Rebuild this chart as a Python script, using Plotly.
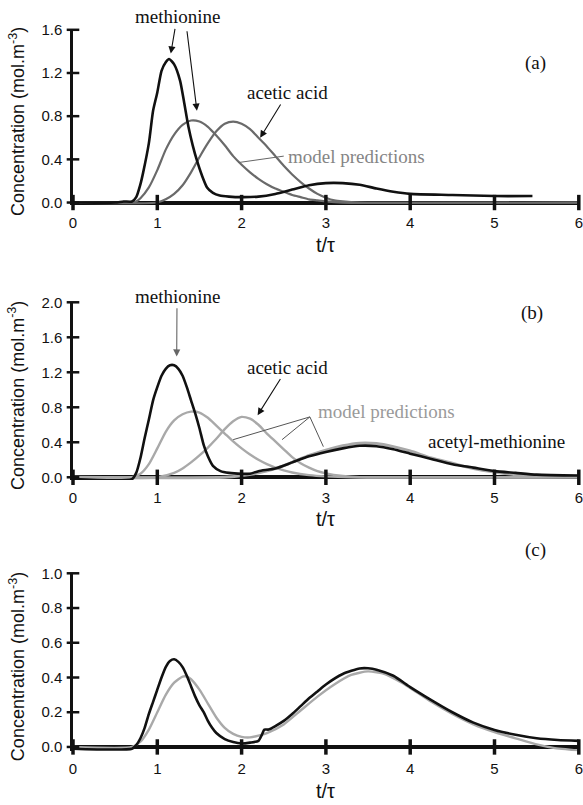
import plotly.graph_objects as go

# ---------------- data ----------------
# Panel (a)
t_a_exp = [0, 0.5, 0.6, 0.7, 0.75, 0.8, 0.83, 0.9, 0.95, 1.0, 1.05, 1.1, 1.14, 1.2, 1.27, 1.32, 1.37,
           1.42, 1.47, 1.53, 1.59, 1.66, 1.74, 1.85, 2.0, 2.2, 2.4, 2.6, 2.8, 3.0, 3.2, 3.4, 3.6, 3.8,
           4.0, 4.5, 5.0, 5.45]
c_a_exp = [0, 0.0, 0.01, 0.01, 0.05, 0.17, 0.27, 0.55, 0.85, 1.02, 1.22, 1.3, 1.33, 1.28, 1.13, 0.92, 0.7,
           0.53, 0.39, 0.25, 0.14, 0.09, 0.065, 0.055, 0.05, 0.055, 0.08, 0.12, 0.16, 0.18, 0.18, 0.165,
           0.13, 0.1, 0.08, 0.07, 0.06, 0.06]
t_a_met = [0, 0.7, 0.75, 0.8, 0.9, 1.0, 1.1, 1.2, 1.3, 1.4, 1.5, 1.6, 1.7, 1.8, 1.9, 2.0, 2.1, 2.2, 2.3,
           2.4, 2.5, 2.6, 2.7, 2.8, 2.9, 3.0, 3.2, 6.0]
c_a_met = [0, 0, 0.01, 0.04, 0.14, 0.3, 0.49, 0.63, 0.72, 0.76, 0.75, 0.7, 0.62, 0.53, 0.43, 0.35, 0.28,
           0.22, 0.17, 0.13, 0.1, 0.07, 0.05, 0.03, 0.02, 0.01, 0.0, 0.0]
t_a_ace = [0, 1.0, 1.1, 1.2, 1.3, 1.4, 1.5, 1.6, 1.7, 1.8, 1.9, 2.0, 2.1, 2.2, 2.3, 2.4, 2.5, 2.6, 2.7,
           2.8, 2.9, 3.0, 3.1, 3.2, 3.4, 6.0]
c_a_ace = [0, 0.0, 0.03, 0.08, 0.16, 0.28, 0.42, 0.55, 0.66, 0.73, 0.75, 0.73, 0.68, 0.6, 0.52, 0.43,
           0.34, 0.26, 0.19, 0.13, 0.08, 0.045, 0.02, 0.01, 0.0, 0.0]

# Panel (b)
t_b_exp = [0, 0.7, 0.75, 0.8, 0.85, 0.9, 0.95, 1.0, 1.05, 1.1, 1.15, 1.2, 1.25, 1.3, 1.35, 1.4, 1.45,
           1.5, 1.55, 1.6, 1.66, 1.75, 1.85, 2.0, 2.1, 2.2, 2.4, 2.6, 2.8, 3.0, 3.2, 3.4, 3.6, 3.8, 4.0,
           4.25, 4.5, 4.75, 5.0, 5.25, 5.5, 6.0]
c_b_exp = [-0.02, -0.02, 0.05, 0.22, 0.45, 0.66, 0.88, 1.03, 1.16, 1.24, 1.28, 1.28, 1.24, 1.16, 1.03,
           0.88, 0.73, 0.56, 0.37, 0.24, 0.13, 0.07, 0.05, 0.04, 0.04, 0.07, 0.1, 0.17, 0.24, 0.29, 0.33,
           0.36, 0.355, 0.32, 0.27, 0.21, 0.15, 0.11, 0.07, 0.05, 0.03, 0.02]
t_b_met = [0, 0.7, 0.8, 0.9, 1.0, 1.1, 1.2, 1.3, 1.4, 1.5, 1.6, 1.7, 1.8, 1.9, 2.0, 2.1, 2.2, 2.3, 2.4,
           2.5, 2.6, 2.8, 3.0, 3.3, 6.0]
c_b_met = [0, 0.0, 0.04, 0.15, 0.33, 0.52, 0.65, 0.72, 0.75, 0.74, 0.68, 0.59, 0.5, 0.41, 0.33, 0.26,
           0.2, 0.15, 0.11, 0.08, 0.055, 0.025, 0.01, 0.0, 0.0]
t_b_ace = [0, 1.0, 1.2, 1.3, 1.4, 1.5, 1.6, 1.7, 1.8, 1.9, 2.0, 2.1, 2.2, 2.3, 2.4, 2.5, 2.6, 2.7, 2.8,
           2.9, 3.0, 3.2, 3.4, 6.0]
c_b_ace = [0, 0.0, 0.05, 0.1, 0.17, 0.25, 0.34, 0.44, 0.55, 0.64, 0.69, 0.67, 0.6, 0.5, 0.41, 0.32,
           0.23, 0.16, 0.11, 0.07, 0.045, 0.015, 0.0, 0.0]
t_b_acm = [0, 1.8, 2.0, 2.2, 2.4, 2.6, 2.8, 3.0, 3.2, 3.4, 3.6, 3.8, 4.0, 4.25, 4.5, 4.75, 5.0, 5.25,
           5.5, 6.0]
c_b_acm = [0, 0.0, 0.02, 0.05, 0.1, 0.17, 0.25, 0.31, 0.36, 0.39, 0.385, 0.35, 0.3, 0.22, 0.16, 0.1,
           0.06, 0.03, 0.015, 0.01]

# Panel (c)
t_c_exp = [0, 0.7, 0.75, 0.8, 0.85, 0.9, 0.95, 1.0, 1.05, 1.1, 1.15, 1.2, 1.25, 1.3, 1.35, 1.4, 1.45,
           1.5, 1.55, 1.6, 1.65, 1.7, 1.8, 1.9, 2.0, 2.1, 2.2, 2.24, 2.27, 2.32, 2.4, 2.5, 2.6, 2.7,
           2.8, 2.9, 3.0, 3.2, 3.4, 3.5, 3.6, 3.8, 4.0, 4.25, 4.5, 4.75, 5.0, 5.25, 5.5, 5.75, 6.0]
c_c_exp = [-0.01, -0.01, 0.01, 0.05, 0.11, 0.19, 0.26, 0.33, 0.4, 0.46, 0.495, 0.505, 0.49, 0.46,
           0.41, 0.35, 0.29, 0.24, 0.2, 0.15, 0.11, 0.08, 0.045, 0.028, 0.02, 0.025, 0.035, 0.07, 0.1,
           0.1, 0.12, 0.15, 0.19, 0.235, 0.28, 0.32, 0.36, 0.42, 0.452, 0.453, 0.445, 0.41, 0.345,
           0.27, 0.2, 0.14, 0.098, 0.07, 0.05, 0.04, 0.035]
t_c_mod = [0, 0.7, 0.8, 0.9, 1.0, 1.1, 1.2, 1.3, 1.35, 1.4, 1.5, 1.6, 1.7, 1.8, 1.9, 2.0, 2.1, 2.2, 2.3,
           2.5, 2.7, 2.9, 3.1, 3.3, 3.5, 3.7, 3.9, 4.0, 4.25, 4.5, 4.75, 5.0, 5.25, 5.5, 5.7, 6.0]
c_c_mod = [0, 0.0, 0.03, 0.1, 0.2, 0.3, 0.37, 0.405, 0.405, 0.39, 0.33, 0.25, 0.17, 0.11, 0.075, 0.058,
           0.055, 0.065, 0.08, 0.13, 0.21, 0.29, 0.36, 0.415, 0.435, 0.42, 0.37, 0.34, 0.26, 0.19, 0.13,
           0.085, 0.05, 0.015, -0.005, -0.02]

x_ticks = [0, 1, 2, 3, 4, 5, 6]
y_ticks_a = [0.0, 0.4, 0.8, 1.2, 1.6]
y_ticks_b = [0.0, 0.4, 0.8, 1.2, 1.6, 2.0]
y_ticks_c = [0.0, 0.2, 0.4, 0.6, 0.8, 1.0]
panel_labels = ["(a)", "(b)", "(c)"]

# ---------------- styling ----------------
W, H = 583, 805
SANS = "Liberation Sans, Arial, sans-serif"
SERIF = "Liberation Serif, Times New Roman, serif"
BLACK = "#111111"
GRAY_A = "#6a6a6a"
GRAY_B = "#a9a9a9"

xdom = [73 / W, 578.8 / W]
panels = [
    dict(ydom=[1 - 204.7 / H, 1 - 29.8 / H], yr=[-0.02, 1.6], yt=y_ticks_a),
    dict(ydom=[1 - 479.9 / H, 1 - 302.3 / H], yr=[-0.03, 2.0], yt=y_ticks_b),
    dict(ydom=[1 - 751.3 / H, 1 - 573.3 / H], yr=[-0.025, 1.0], yt=y_ticks_c),
]

fig = go.Figure()


def ax_names(i):
    s = "" if i == 0 else str(i + 1)
    return "x" + s, "y" + s


def line(tx, cy, i, color, width):
    xa, ya = ax_names(i)
    fig.add_trace(go.Scatter(x=tx, y=cy, mode="lines", xaxis=xa, yaxis=ya,
                             line=dict(color=color, width=width, shape="spline", smoothing=0.6),
                             hoverinfo="skip", showlegend=False))


# (a)
line(t_a_met, c_a_met, 0, GRAY_A, 2.2)
line(t_a_ace, c_a_ace, 0, GRAY_A, 2.2)
line(t_a_exp, c_a_exp, 0, BLACK, 2.6)
# (b)
line(t_b_met, c_b_met, 1, GRAY_B, 2.4)
line(t_b_ace, c_b_ace, 1, GRAY_B, 2.4)
line(t_b_acm, c_b_acm, 1, GRAY_B, 3.0)
line(t_b_exp, c_b_exp, 1, BLACK, 2.6)
# (c)
line(t_c_mod, c_c_mod, 2, GRAY_B, 2.4)
line(t_c_exp, c_c_exp, 2, BLACK, 2.6)

# crossing tick marks on axes
for i, p in enumerate(panels):
    xa, ya = ax_names(i)
    fig.add_trace(go.Scatter(x=x_ticks, y=[0] * len(x_ticks), mode="markers", xaxis=xa, yaxis=ya,
                             marker=dict(symbol="line-ns", size=11, line=dict(width=3.5, color=BLACK)),
                             cliponaxis=False, hoverinfo="skip", showlegend=False))
    fig.add_trace(go.Scatter(x=[0] * len(p["yt"]), y=p["yt"], mode="markers", xaxis=xa, yaxis=ya,
                             marker=dict(symbol="line-ew", size=9, line=dict(width=2.5, color=BLACK)),
                             cliponaxis=False, hoverinfo="skip", showlegend=False))

layout = dict(width=W, height=H, margin=dict(l=0, r=0, t=0, b=0),
              paper_bgcolor="white", plot_bgcolor="white", showlegend=False)
for i, p in enumerate(panels):
    s = "" if i == 0 else str(i + 1)
    layout["xaxis" + s] = dict(domain=xdom, range=[0, 6], anchor="y" + s, tickvals=x_ticks,
                               ticktext=[str(v) for v in x_ticks], ticks="outside", ticklen=4,
                               tickcolor="rgba(0,0,0,0)", showline=False, showgrid=False,
                               zeroline=False, automargin=False,
                               tickfont=dict(family=SANS, size=15, color=BLACK))
    layout["yaxis" + s] = dict(domain=p["ydom"], range=p["yr"], anchor="x" + s, tickvals=p["yt"],
                               tickformat=".1f", ticks="outside", ticklen=5,
                               tickcolor="rgba(0,0,0,0)", showline=True, linewidth=2.5,
                               linecolor=BLACK, showgrid=False, zeroline=True, zerolinewidth=3.5,
                               zerolinecolor=BLACK, automargin=False,
                               tickfont=dict(family=SANS, size=15, color=BLACK))
fig.update_layout(**layout)

ann = []
shapes = []
ytitle_txt = "Concentration (mol.m<sup>-3</sup>)"
for i, p in enumerate(panels):
    ymid = (p["ydom"][0] + p["ydom"][1]) / 2
    ann.append(dict(x=17 / W, y=ymid - 0.006, xref="paper", yref="paper", text=ytitle_txt,
                    xanchor="center", yanchor="middle",
                    textangle=-90, showarrow=False, font=dict(family=SANS, size=18, color=BLACK)))
xt_pos = [245, 519, 791]
for yp in xt_pos:
    ann.append(dict(x=(73 + 3 * 84.3) / W, y=1 - yp / H, xref="paper", yref="paper", text="t/τ",
                    xanchor="center", yanchor="middle",
                    showarrow=False, font=dict(family=SANS, size=20, color=BLACK)))
for lab, (xp, yp) in zip(panel_labels, [(535, 63), (532, 313), (535, 550)]):
    ann.append(dict(x=xp / W, y=1 - yp / H, xref="paper", yref="paper", text=lab,
                    xanchor="center", yanchor="middle",
                    showarrow=False, font=dict(family=SERIF, size=19, color=BLACK)))


def txt(x, y, s, i, color=BLACK, xanchor="center", tip=None, arrowcolor=BLACK):
    xa, ya = ax_names(i)
    a = dict(xref=xa, yref=ya, text=s, xanchor=xanchor, yanchor="middle",
             font=dict(family=SERIF, size=19, color=color))
    if tip is None:
        a.update(x=x, y=y, showarrow=False)
    else:
        # text sits at (x, y); an arrow runs from the text box to the tip
        a.update(x=tip[0], y=tip[1], ax=x, ay=y, axref=xa, ayref=ya, showarrow=True,
                 arrowhead=2, arrowsize=1.3, arrowwidth=1.1, arrowcolor=arrowcolor, standoff=0)
    ann.append(a)


def arrow(tip, tail, i, color=BLACK):
    xa, ya = ax_names(i)
    ann.append(dict(x=tip[0], y=tip[1], ax=tail[0], ay=tail[1], xref=xa, yref=ya, axref=xa, ayref=ya,
                    text="", showarrow=True, arrowhead=2, arrowsize=1.3, arrowwidth=1.1,
                    arrowcolor=color, standoff=0, startstandoff=0))


def seg(p0, p1, i, color):
    xa, ya = ax_names(i)
    shapes.append(dict(type="line", x0=p0[0], y0=p0[1], x1=p1[0], y1=p1[1], xref=xa, yref=ya,
                       line=dict(color=color, width=1)))


# (a) annotations
txt(1.234, 1.72, "methionine", 0, tip=(1.16, 1.38))
arrow((1.47, 0.85), (1.35, 1.6), 0)
txt(2.55, 1.02, "acetic acid", 0, tip=(2.22, 0.60))
txt(2.53, 0.43, "model predictions", 0, color="#858585", xanchor="left")
seg((2.50, 0.43), (1.96, 0.37), 0, "#666666")

# (b) annotations
txt(1.234, 2.07, "methionine", 1, tip=(1.23, 1.38), arrowcolor="#666666")
txt(2.55, 1.26, "acetic acid", 1, tip=(2.19, 0.71))
txt(2.88, 0.75, "model predictions", 1, color="#9a9a9a", xanchor="left")
seg((2.81, 0.69), (1.90, 0.43), 1, "#555555")
seg((2.81, 0.69), (2.48, 0.43), 1, "#555555")
seg((2.81, 0.69), (2.97, 0.35), 1, "#555555")
txt(5.02, 0.41, "acetyl-methionine", 1)

fig.update_layout(annotations=ann, shapes=shapes)
fig.write_html("out.html")
